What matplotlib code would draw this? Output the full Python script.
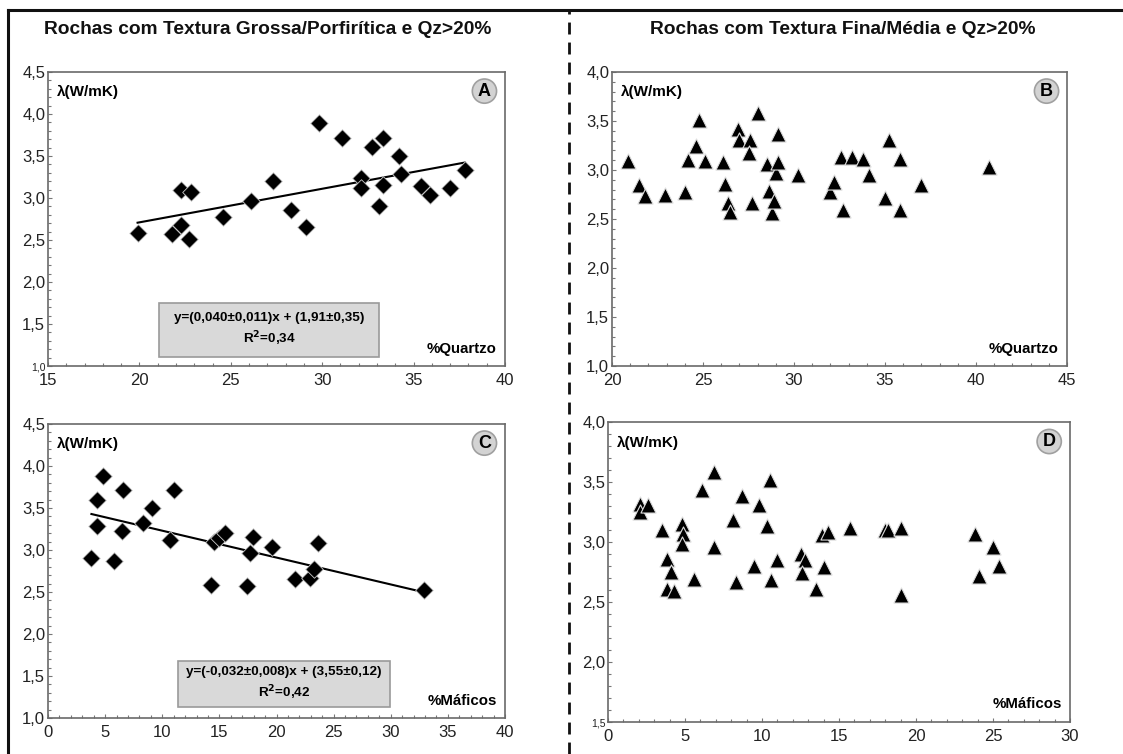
import numpy as np
import matplotlib
matplotlib.use("Agg")
import matplotlib.pyplot as plt
from matplotlib.lines import Line2D
from matplotlib.patches import Rectangle
from matplotlib.ticker import MultipleLocator

plt.rcParams["font.family"] = ["Liberation Sans", "DejaVu Sans"]

# Painel A : textura grossa / porfirítica, lambda vs %Quartzo
qz_a = [19.9, 21.8, 22.3, 22.7, 22.3, 22.8, 24.6, 26.1, 27.3, 28.3, 29.1, 29.8, 31.1,
        32.1, 32.1, 32.7, 33.1, 33.3, 33.3, 34.2, 34.3, 35.4, 35.9, 37.0, 37.8]
lam_a = [2.58, 2.57, 2.68, 2.51, 3.09, 3.07, 2.77, 2.96, 3.20, 2.86, 2.66, 3.89, 3.72,
         3.24, 3.12, 3.61, 2.91, 3.72, 3.15, 3.50, 3.29, 3.14, 3.03, 3.12, 3.33]
fit_a = (0.040, 1.91)

# Painel B : textura fina / média, lambda vs %Quartzo
qz_b = [20.9, 21.5, 21.8, 22.9, 24.0, 24.2, 24.6, 24.8, 25.1, 26.1, 26.2, 26.4, 26.5,
        26.9, 27.0, 27.6, 27.5, 27.7, 28.0, 28.5, 28.6, 28.8, 28.9, 29.0, 29.1, 29.1,
        30.2, 32.0, 32.2, 32.7, 32.6, 33.2, 33.8, 34.1, 35.0, 35.2, 35.8, 35.8, 37.0, 40.7]
lam_b = [3.09, 2.85, 2.73, 2.74, 2.78, 3.10, 3.24, 3.51, 3.09, 3.08, 2.86, 2.66, 2.57,
         3.42, 3.31, 3.31, 3.17, 2.66, 3.58, 3.06, 2.79, 2.56, 2.68, 2.97, 3.08, 3.37,
         2.95, 2.78, 2.88, 2.59, 3.13, 3.13, 3.11, 2.95, 2.71, 3.31, 3.11, 2.59, 2.85, 3.03]

# Painel C : textura grossa / porfirítica, lambda vs %Máficos
maf_c = [3.8, 4.3, 4.3, 4.8, 5.8, 6.5, 6.6, 8.3, 9.1, 10.7, 11.0, 14.3, 14.5, 15.0,
         15.5, 17.4, 17.7, 17.9, 19.6, 21.6, 22.9, 23.3, 23.6, 32.9]
lam_c = [2.91, 3.60, 3.29, 3.88, 2.87, 3.23, 3.72, 3.32, 3.50, 3.12, 3.72, 2.58, 3.09,
         3.14, 3.20, 2.57, 2.97, 3.16, 3.04, 2.66, 2.67, 2.77, 3.08, 2.52]
fit_c = (-0.032, 3.55)

# Painel D : textura fina / média, lambda vs %Máficos
maf_d = [2.1, 2.1, 2.6, 3.5, 3.8, 3.8, 4.1, 4.3, 4.8, 4.9, 4.8, 5.6, 6.1, 6.9, 6.9,
         8.1, 8.3, 8.7, 9.5, 9.8, 10.3, 10.5, 10.6, 11.0, 12.5, 12.8, 12.6, 13.5, 13.9,
         14.0, 14.3, 15.7, 18.0, 18.2, 19.0, 19.0, 23.8, 24.1, 25.0, 25.4]
lam_d = [3.32, 3.25, 3.31, 3.10, 2.86, 2.61, 2.75, 2.59, 3.15, 3.07, 2.98, 2.69, 3.43,
         3.58, 2.96, 3.18, 2.67, 3.38, 2.80, 3.31, 3.13, 3.52, 2.68, 2.85, 2.90, 2.85,
         2.74, 2.61, 3.06, 2.79, 3.08, 3.12, 3.10, 3.10, 3.12, 2.56, 3.07, 2.72, 2.96, 2.80]

titulo_esq = "Rochas com Textura Grossa/Porfirítica e Qz>20%"
titulo_dir = "Rochas com Textura Fina/Média e Qz>20%"
eq_a = "y=(0,040±0,011)x + (1,91±0,35)\nR$^{\\mathbf{2}}$=0,34"
eq_c = "y=(-0,032±0,008)x + (3,55±0,12)\nR$^{\\mathbf{2}}$=0,42"

fig = plt.figure(figsize=(11.23, 7.54), dpi=100)
W, H = 1123, 754


def box(l, t, r, b):
    return [l / W, 1 - b / H, (r - l) / W, (b - t) / H]


def estilo(ax, xlim, xstep, ylim, letra, xlab, ysmall=False):
    ax.set_xlim(*xlim)
    ax.set_ylim(*ylim)
    xt = np.arange(xlim[0], xlim[1] + 0.01, xstep)
    yt = np.arange(ylim[0], ylim[1] + 0.01, 0.5)
    ax.set_xticks(xt, [f"{v:g}" for v in xt])
    ax.set_yticks(yt, [f"{v:.1f}".replace(".", ",") for v in yt])
    ax.xaxis.set_minor_locator(MultipleLocator(1))
    ax.yaxis.set_minor_locator(MultipleLocator(0.1))
    ax.tick_params(which="both", direction="in", color="#777777", width=0.8)
    ax.tick_params(which="major", length=3, labelsize=12, labelcolor="#222222")
    ax.tick_params(which="minor", length=2)
    ax.tick_params(axis="y", pad=2)
    ax.tick_params(axis="x", pad=5)
    if ysmall:
        ax.get_yticklabels()[0].set_fontsize(7.5)
    for s in ax.spines.values():
        s.set_color("#6a6a6a")
        s.set_linewidth(1.2)
    ax.text(0.02, 0.955, "λ(W/mK)", transform=ax.transAxes, fontsize=11,
            fontweight="bold", va="top", ha="left")
    ax.text(0.982, 0.035, xlab, transform=ax.transAxes, fontsize=10.8,
            fontweight="bold", va="bottom", ha="right")
    ax.text(0.955, 0.935, letra, transform=ax.transAxes, fontsize=13,
            fontweight="bold", ha="center", va="center",
            bbox=dict(boxstyle="circle,pad=0.2", fc="#d3d3d3", ec="#a0a0a0", lw=1.2))


axA = fig.add_axes(box(48, 72, 505, 366))
axB = fig.add_axes(box(612, 72, 1067, 366))
axC = fig.add_axes(box(48, 424, 505, 718))
axD = fig.add_axes(box(608, 422, 1070, 722))

mk_d = dict(marker="D", s=80, color="black", edgecolors="#cccccc", linewidths=0.6, zorder=3)
mk_t = dict(marker="^", s=118, color="black", edgecolors="#dddddd", linewidths=0.8, zorder=3)

axA.scatter(qz_a, lam_a, **mk_d)
xa = np.array([min(qz_a), max(qz_a)])
axA.plot(xa, fit_a[0] * xa + fit_a[1], color="black", lw=1.5, zorder=2)

axB.scatter(qz_b, lam_b, **mk_t)

axC.scatter(maf_c, lam_c, **mk_d)
xc = np.array([min(maf_c), max(maf_c)])
axC.plot(xc, fit_c[0] * xc + fit_c[1], color="black", lw=1.5, zorder=2)

axD.scatter(maf_d, lam_d, **mk_t)

estilo(axA, (15, 40), 5, (1.0, 4.5), "A", "%Quartzo", ysmall=True)
estilo(axB, (20, 45), 5, (1.0, 4.0), "B", "%Quartzo")
estilo(axC, (0, 40), 5, (1.0, 4.5), "C", "%Máficos")
estilo(axD, (0, 30), 5, (1.5, 4.0), "D", "%Máficos", ysmall=True)

# caixas com as equações de regressão
for eq, (l, t, r, b) in [(eq_a, (159, 303, 379, 357)), (eq_c, (178, 661, 390, 707))]:
    fig.add_artist(Rectangle((l / W, 1 - b / H), (r - l) / W, (b - t) / H,
                             transform=fig.transFigure, fc="#d9d9d9", ec="#9a9a9a",
                             lw=1.2, zorder=5))
    fig.text((l + r) / 2 / W, 1 - (t + b) / 2 / H, eq, fontsize=9.7,
             fontweight="bold", ha="center", va="center", linespacing=1.45, zorder=6)

fig.text(268 / W, 1 - 30 / H, titulo_esq, fontsize=13.8, fontweight="bold",
         ha="center", va="center", color="#111111")
fig.text(843 / W, 1 - 30 / H, titulo_dir, fontsize=13.8, fontweight="bold",
         ha="center", va="center", color="#111111")

# moldura e divisória tracejada
fig.add_artist(Line2D([8 / W, 1], [1 - 10 / H, 1 - 10 / H], color="#111111", lw=2.2))
fig.add_artist(Line2D([8 / W, 8 / W], [0, 1 - 10 / H], color="#111111", lw=2.2))
fig.add_artist(Line2D([569 / W, 569 / W], [0, 1 - 10 / H], color="#111111", lw=2.0,
                      linestyle=(0, (4.3, 2.9))))

fig.savefig("out.png", dpi=100)
